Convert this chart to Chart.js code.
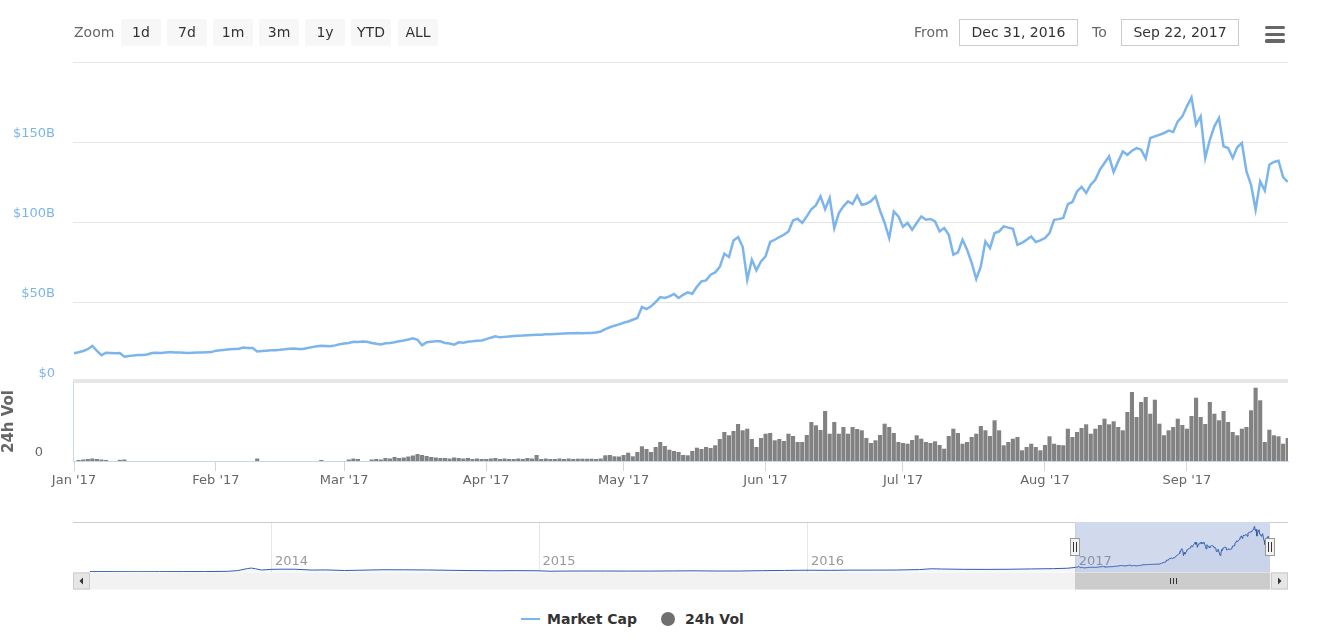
<!DOCTYPE html>
<html>
<head>
<meta charset="utf-8">
<title>Total Market Capitalization</title>
<script src="https://cdn.jsdelivr.net/npm/chart.js@4.4.1/dist/chart.umd.min.js"></script>
<style>
  html, body { margin:0; padding:0; background:#fff; }
  #wrap { position:relative; width:1327px; height:641px; overflow:hidden; font-family:'DejaVu Sans','Noto Sans',sans-serif; }
  #wrap canvas { position:absolute; left:0; }
  .txt { position:absolute; top:19px; height:27px; line-height:27px; font-size:14px; color:#666; white-space:nowrap; }
  .btn { position:absolute; top:19px; width:40px; height:27px; line-height:27px; background:#f7f7f7; border-radius:2px; text-align:center; font-size:14px; color:#333; }
  .inp { position:absolute; top:19px; height:25px; line-height:25px; border:1px solid #cccccc; text-align:center; font-size:14px; color:#333; background:#fff; }
  .hb { position:absolute; left:1265px; width:20px; height:3.4px; background:#666; border-radius:1.5px; }
  .leg { position:absolute; top:610px; height:18px; line-height:18px; font-size:14px; font-weight:bold; color:#333; white-space:nowrap; }
</style>
</head>
<body>
<div id="wrap">
  <canvas id="main" width="1327" height="412" style="top:0"></canvas>
  <canvas id="vol" width="1327" height="150" style="top:350px"></canvas>
  <canvas id="nav" width="1327" height="90" style="top:510px"></canvas>

  <div class="txt" style="left:74px">Zoom</div>
  <div class="btn" style="left:121px">1d</div>
  <div class="btn" style="left:167px">7d</div>
  <div class="btn" style="left:213px">1m</div>
  <div class="btn" style="left:259px">3m</div>
  <div class="btn" style="left:305px">1y</div>
  <div class="btn" style="left:351px">YTD</div>
  <div class="btn" style="left:398px">ALL</div>

  <div class="txt" style="left:914px">From</div>
  <div class="inp" style="left:959px;width:117px">Dec 31, 2016</div>
  <div class="txt" style="left:1092px">To</div>
  <div class="inp" style="left:1121px;width:116px">Sep 22, 2017</div>
  <div class="hb" style="top:26px"></div>
  <div class="hb" style="top:32.6px"></div>
  <div class="hb" style="top:39.2px"></div>

  <div style="position:absolute;left:521px;top:618px;width:19px;height:2px;background:#7cb5ec"></div>
  <div class="leg" style="left:547px">Market Cap</div>
  <div style="position:absolute;left:661px;top:612px;width:14px;height:14px;border-radius:50%;background:#6f6f6f"></div>
  <div class="leg" style="left:685px">24h Vol</div>
</div>

<script>
// ---------------- DATA ----------------
// day index 0 = Jan 1, 2017 (daily, through Sep 22, 2017 end)
const marketCap = [
  18.0, 18.6, 19.4, 20.5, 22.5, 19.5, 16.8, 18.3, 18.2, 18.0,
  18.1, 15.8, 16.3, 16.5, 16.8, 16.9, 17.2, 18.1, 18.3, 18.1,
  18.4, 18.7, 18.5, 18.5, 18.3, 18.1, 18.3, 18.4, 18.5, 18.6,
  18.7, 19.6, 19.9, 20.1, 20.4, 20.6, 20.8, 21.6, 21.3, 21.2,
  19.1, 19.4, 19.6, 19.8, 19.9, 20.1, 20.4, 20.8, 20.9, 20.7,
  20.6, 21.2, 21.8, 22.3, 22.7, 22.5, 22.3, 22.9, 23.6, 24.0,
  24.4, 25.2, 25.0, 25.3, 25.2, 24.4, 23.9, 23.5, 24.2, 24.4,
  24.9, 25.5, 26.0, 26.6, 27.3, 26.4, 22.9, 24.8, 25.1, 25.4,
  25.4, 24.4, 24.0, 23.3, 24.8, 24.6, 25.1, 25.4, 25.8, 26.0,
  26.8, 27.7, 28.5, 27.9, 28.2, 28.5, 28.7, 28.9, 29.0, 29.2,
  29.4, 29.5, 29.6, 29.9, 29.8, 30.0, 30.2, 30.3, 30.4, 30.5,
  30.6, 30.5, 30.7, 30.6, 31.0, 31.6, 33.1, 34.2, 35.2, 36.0,
  37.0, 37.8, 38.9, 40.0, 46.9, 45.6, 47.3, 50.0, 53.1, 52.5,
  53.5, 55.0, 52.5, 54.5, 56.0, 55.2, 59.5, 62.9, 63.5, 67.1,
  68.5, 72.0, 80.2, 78.1, 88.5, 90.6, 84.5, 63.9, 76.4, 69.8,
  75.4, 78.5, 87.5, 88.9, 90.6, 92.0, 94.1, 101.0, 102.0, 99.4,
  103.5, 108.0, 110.5, 116.0, 108.0, 115.0, 96.2, 105.6, 109.8, 112.9,
  111.2, 116.6, 110.8, 111.4, 113.0, 116.0, 107.0, 99.4, 90.0, 106.6,
  103.5, 97.0, 99.4, 95.2, 99.4, 103.5, 101.4, 101.9, 100.4, 94.1,
  96.2, 92.0, 79.6, 81.0, 88.9, 82.7, 74.4, 64.4, 72.3, 87.9,
  83.7, 93.1, 94.1, 97.3, 96.5, 95.8, 85.8, 87.0, 88.9, 91.0,
  87.5, 88.5, 90.0, 93.1, 101.4, 101.8, 102.5, 111.2, 112.5, 119.1,
  122.0, 118.1, 123.3, 126.4, 132.7, 136.9, 141.0, 131.2, 137.9, 144.1,
  142.0, 144.5, 146.2, 145.2, 139.6, 152.5, 153.5, 154.5, 155.6, 157.1,
  156.2, 162.9, 166.0, 172.3, 177.9, 160.8, 166.0, 140.0, 151.4, 159.8,
  165.0, 147.3, 146.2, 140.0, 146.7, 149.4, 131.6, 123.3, 107.7, 125.4,
  119.6, 135.8, 137.5, 138.3, 128.0, 125.0
];
const volume24h = [
  0, 0.1, 0.15, 0.2, 0.25, 0.2, 0.15, 0.1, 0, 0,
  0.12, 0.15, 0, 0, 0, 0, 0, 0, 0, 0,
  0, 0, 0, 0, 0, 0, 0, 0, 0, 0,
  0, 0, 0, 0, 0, 0, 0, 0, 0, 0,
  0.25, 0, 0, 0, 0, 0, 0, 0, 0, 0,
  0, 0, 0, 0, 0.1, 0, 0, 0, 0, 0,
  0.15, 0.25, 0.2, 0, 0, 0.15, 0.2, 0.15, 0.3, 0.25,
  0.4, 0.3, 0.35, 0.45, 0.55, 0.7, 0.6, 0.5, 0.4, 0.35,
  0.3, 0.3, 0.25, 0.35, 0.3, 0.25, 0.3, 0.2, 0.25, 0.2,
  0.2, 0.25, 0.3, 0.2, 0.25, 0.2, 0.2, 0.25, 0.2, 0.3,
  0.25, 0.6, 0.2, 0.25, 0.2, 0.2, 0.25, 0.2, 0.25, 0.2,
  0.23, 0.23, 0.22, 0.23, 0.2, 0.25, 0.57, 0.6, 0.47, 0.45,
  0.6, 0.83, 0.47, 0.9, 1.47, 1.2, 0.9, 1.4, 1.9, 1.5,
  1.13, 1.0, 0.9, 0.6, 0.57, 1.0, 1.33, 1.2, 1.4, 1.3,
  1.57, 2.2, 2.9, 2.57, 3.0, 3.7, 3.07, 3.23, 2.2, 1.4,
  2.3, 2.73, 2.8, 2.07, 2.2, 2.0, 2.73, 2.5, 1.9, 1.9,
  2.6, 3.9, 3.57, 3.1, 5.0, 2.73, 3.9, 2.73, 3.4, 2.73,
  3.4, 3.2, 3.07, 2.3, 1.8, 2.07, 2.6, 3.73, 3.4, 2.8,
  1.9, 1.8, 1.73, 2.1, 2.57, 2.23, 1.9, 1.8, 1.97, 1.6,
  1.23, 2.5, 3.23, 2.8, 1.73, 1.9, 2.4, 2.73, 3.5, 3.07,
  2.5, 4.07, 3.07, 1.57, 1.9, 2.23, 2.4, 1.07, 1.4, 1.73,
  1.4, 1.07, 1.6, 2.47, 1.73, 1.6, 1.57, 3.23, 2.4, 2.9,
  3.3, 3.67, 2.73, 3.23, 3.6, 4.23, 3.67, 3.97, 3.4, 3.07,
  4.9, 6.9, 4.4, 5.9, 6.4, 4.73, 6.13, 3.73, 2.57, 3.07,
  3.4, 4.23, 3.6, 3.23, 4.5, 6.33, 4.4, 3.7, 5.9, 4.73,
  4.07, 5.0, 3.9, 2.9, 2.57, 3.23, 3.4, 5.07, 7.33, 6.07,
  1.9, 3.13, 2.57, 2.47, 1.73, 2.3
];
const monthTicks  = [0, 31, 59, 90, 120, 151, 181, 212, 243];
const monthLabels = ["Jan '17", "Feb '17", "Mar '17", "Apr '17", "May '17", "Jun '17", "Jul '17", "Aug '17", "Sep '17"];
const capTicks  = [0, 50, 100, 150, 200];
const capLabels = ['$0', '$50B', '$100B', '$150B', ''];

// navigator history before 2017 (day offsets relative to Jan 1, 2017)
const histDays = [-1344, -1310, -1280, -1249, -1218, -1188, -1157, -1143, -1129, -1124, -1118, -1110,
  -1096, -1082, -1065, -1041, -1023, -997, -976, -945, -915, -884, -853, -823, -792, -762,
  -731, -717, -700, -672, -641, -611, -580, -550, -519, -488, -458, -427, -397,
  -365, -334, -305, -274, -244, -213, -197, -183, -152, -121, -91, -60, -30, -11];
const histCap = [1.6, 1.4, 1.1, 1.3, 1.6, 1.7, 2.6, 5.4, 13.5, 15.4, 12.4, 7.8,
  10.4, 11.0, 10.8, 7.5, 8.2, 5.8, 6.9, 8.8, 8.5, 7.9, 6.6, 5.6, 4.8, 5.4,
  4.7, 3.0, 3.6, 3.9, 3.8, 3.6, 3.6, 4.1, 4.6, 3.8, 3.9, 5.2, 6.2,
  7.0, 6.5, 7.4, 7.4, 7.7, 9.5, 12.6, 11.7, 10.4, 10.2, 10.7, 12.0, 13.1, 14.7];
const yearTicks  = [-1096, -731, -365, 0];
const yearLabels = ['2014', '2015', '2016', '2017'];
const selection = [-0.5, 265];

// ---------------- CHARTS ----------------
const FONT = "'DejaVu Sans', 'Noto Sans', sans-serif";
const X_MIN = -0.22, X_MAX = 265.07;
const NAV_MIN = -1344, NAV_MAX = 265;

const capPoints = marketCap.map((v, i) => ({ x: i, y: v }));
const volPoints = volume24h.map((v, i) => ({ x: i, y: v }));
const navPoints = histDays.map((d, i) => ({ x: d, y: histCap[i] })).concat(capPoints);

new Chart(document.getElementById('main'), {
  type: 'line',
  data: { datasets: [{ label: 'Market Cap', data: capPoints, borderColor: '#7cb5ec', borderWidth: 2.5,
    pointRadius: 0, tension: 0, fill: false }] },
  options: {
    responsive: false, animation: false, events: [],
    layout: { padding: { left: 0, right: 39, top: 62, bottom: 30 } },
    plugins: { legend: { display: false }, tooltip: { enabled: false } },
    scales: {
      x: { type: 'linear', display: false, min: X_MIN, max: X_MAX },
      y: {
        min: 0, max: 200,
        afterBuildTicks(s) { s.ticks = capTicks.map(v => ({ value: v })); },
        afterFit(s) { s.width = 73; },
        border: { display: false },
        grid: { color: '#e6e6e6', drawTicks: false },
        ticks: { padding: 18, labelOffset: -8, color: '#7cb5ec', font: { family: FONT, size: 13 },
          callback: (v, i) => capLabels[i] }
      }
    }
  }
});

const paneTop = {
  id: 'paneTop',
  beforeDraw(chart) {
    const { ctx, chartArea: a } = chart;
    ctx.save();
    ctx.fillStyle = '#e6e6e6';
    ctx.fillRect(a.left, a.top - 3, a.right - a.left, 3);
    ctx.restore();
  }
};

new Chart(document.getElementById('vol'), {
  type: 'bar',
  data: { datasets: [{ label: '24h Vol', data: volPoints, backgroundColor: '#828282', borderWidth: 0,
    barPercentage: 0.9, categoryPercentage: 1 }] },
  options: {
    responsive: false, animation: false, events: [],
    layout: { padding: { left: 0, right: 39, top: 32, bottom: 0 } },
    plugins: { legend: { display: false }, tooltip: { enabled: false } },
    scales: {
      x: {
        type: 'linear', min: X_MIN, max: X_MAX, offset: false,
        afterBuildTicks(s) { s.ticks = monthTicks.map(v => ({ value: v })); },
        afterFit(s) { s.height = 39; },
        border: { color: '#ccd6eb' },
        grid: { drawOnChartArea: false, offset: false, color: '#ccd6eb', tickLength: 10 },
        ticks: { color: '#666', font: { family: FONT, size: 13 }, padding: 2, maxRotation: 0, autoSkip: false,
          callback: (v, i) => monthLabels[i] }
      },
      y: {
        min: 0, max: 7.9,
        afterBuildTicks(s) { s.ticks = [{ value: 0 }]; },
        afterFit(s) { s.width = 73; },
        border: { color: '#ccd6eb' },
        grid: { display: false },
        title: { display: true, text: '24h Vol', color: '#666', font: { family: FONT, size: 15, weight: 'bold' }, padding: 0 },
        ticks: { color: '#666', font: { family: FONT, size: 13 }, padding: 22, labelOffset: -8 }
      }
    }
  },
  plugins: [paneTop]
});

const navDecor = {
  id: 'navDecor',
  beforeDatasetsDraw(chart) {
    const { ctx, chartArea: a, scales: { x } } = chart;
    ctx.save();
    // year labels inside the navigator
    ctx.fillStyle = '#999';
    ctx.font = "13px " + FONT;
    ctx.textAlign = 'left';
    ctx.textBaseline = 'middle';
    yearTicks.forEach((v, i) => ctx.fillText(yearLabels[i], x.getPixelForValue(v) + 3, a.bottom - 10));
    // selected range mask
    const l = x.getPixelForValue(selection[0]), r = x.getPixelForValue(selection[1]);
    ctx.fillStyle = 'rgba(102,133,194,0.3)';
    ctx.fillRect(l, a.top, r - l, a.bottom - a.top);
    ctx.restore();
  },
  afterDatasetsDraw(chart) {
    const { ctx, chartArea: a, scales: { x } } = chart;
    const l = Math.round(x.getPixelForValue(selection[0])), r = Math.round(x.getPixelForValue(selection[1]));
    const btn = 17, tl = Math.round(a.left) - btn, tr = Math.round(a.right) + btn + 1, ty = Math.round(a.bottom) + 0.5, th = 17;
    ctx.save();
    ctx.lineWidth = 1;
    ctx.strokeStyle = '#cccccc';
    ctx.beginPath();
    ctx.moveTo(tl, Math.round(a.top) + 0.5); ctx.lineTo(l, Math.round(a.top) + 0.5);
    ctx.moveTo(r, Math.round(a.top) + 0.5); ctx.lineTo(tr, Math.round(a.top) + 0.5);
    ctx.stroke();
    // scrollbar track and thumb
    ctx.fillStyle = '#f2f2f2'; ctx.fillRect(tl, ty, tr - tl, th);
    ctx.fillStyle = '#cccccc'; ctx.fillRect(l, ty, r - l, th);
    ctx.strokeStyle = '#333';
    const cx = Math.round((l + r) / 2) + 0.5, cy = ty + th / 2;
    ctx.beginPath();
    for (const dx of [-3, 0, 3]) { ctx.moveTo(cx + dx, cy - 3); ctx.lineTo(cx + dx, cy + 3); }
    ctx.stroke();
    // buttons
    for (const [bx, dir] of [[tl, -1], [tr - btn, 1]]) {
      ctx.fillStyle = '#e6e6e6'; ctx.fillRect(bx, ty, btn, th);
      ctx.strokeStyle = '#cccccc'; ctx.strokeRect(bx + 0.5, ty + 0.5, btn - 1, th - 1);
      ctx.fillStyle = '#333';
      const mx = bx + btn / 2, my = ty + th / 2;
      ctx.beginPath();
      ctx.moveTo(mx + dir * 2, my); ctx.lineTo(mx - dir * 1.5, my - 3.5); ctx.lineTo(mx - dir * 1.5, my + 3.5);
      ctx.closePath(); ctx.fill();
    }
    // handles
    const hy = Math.round((a.top + a.bottom) / 2);
    for (const hx of [l, r]) {
      ctx.fillStyle = '#f2f2f2'; ctx.fillRect(hx - 4.5, hy - 9, 9, 18);
      ctx.strokeStyle = '#999999'; ctx.strokeRect(hx - 4.5, hy - 8.5, 9, 17);
      ctx.strokeStyle = '#333';
      ctx.beginPath();
      ctx.moveTo(hx - 1.5, hy - 5); ctx.lineTo(hx - 1.5, hy + 5);
      ctx.moveTo(hx + 1.5, hy - 5); ctx.lineTo(hx + 1.5, hy + 5);
      ctx.stroke();
    }
    ctx.restore();
  }
};

new Chart(document.getElementById('nav'), {
  type: 'line',
  data: { datasets: [{ label: 'Navigator', data: navPoints, borderColor: '#335cad', borderWidth: 1, pointRadius: 0,
    tension: 0, fill: 'origin', backgroundColor: 'rgba(51,92,173,0.05)' }] },
  options: {
    responsive: false, animation: false, events: [],
    layout: { padding: { left: 90, right: 57, top: 12, bottom: 10 } },
    plugins: { legend: { display: false }, tooltip: { enabled: false } },
    scales: {
      x: {
        type: 'linear', min: NAV_MIN, max: NAV_MAX,
        afterBuildTicks(s) { s.ticks = yearTicks.map(v => ({ value: v })); },
        afterFit(s) { s.height = 18; },
        border: { display: false },
        grid: { color: '#e6e6e6', drawTicks: false },
        ticks: { display: false }
      },
      y: { display: false, min: 0, max: 195 }
    }
  },
  plugins: [navDecor]
});
</script>
</body>
</html>
